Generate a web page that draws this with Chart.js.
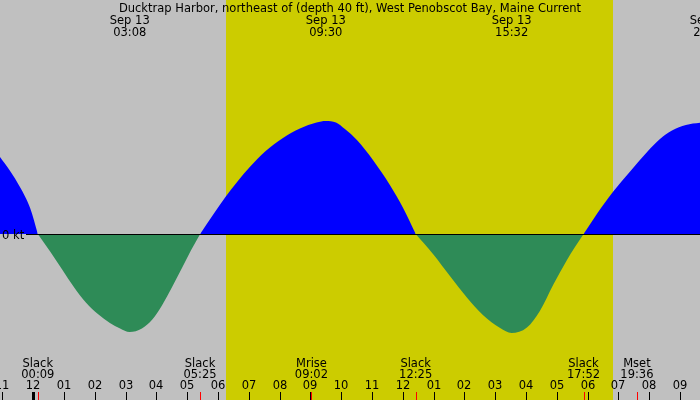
<!DOCTYPE html>
<html>
<head>
<meta charset="utf-8">
<script src="https://cdn.jsdelivr.net/npm/chart.js@4.4.0/dist/chart.umd.min.js"></script>
<style>
  html, body { margin: 0; padding: 0; background: #c0c0c0; }
  #wrap { width: 700px; height: 400px; }
</style>
</head>
<body>
<div id="wrap"><canvas id="tide" width="700" height="400"></canvas></div>
<script>
const TITLE = "Ducktrap Harbor, northeast of (depth 40 ft), West Penobscot Bay, Maine Current";
const DAY = "Sep 13";

// hours after midnight Sep 13, current speed in knots (flood +, ebb -)
const curveHours = [-1.08, -0.75, -0.43, -0.10, 0.15,
  0.55, 0.94, 1.32, 1.71, 2.10, 2.49, 2.82, 3.13, 3.53, 3.86, 4.18, 4.51, 4.83, 5.12, 5.42,
  5.84, 6.23, 6.62, 7.04, 7.53, 8.11, 8.66, 9.20, 9.50, 9.83, 10.12, 10.51, 11.03, 11.58, 12.01, 12.42,
  12.98, 13.53, 14.08, 14.60, 15.16, 15.53, 16.03, 16.45, 16.88, 17.33, 17.59, 17.87,
  18.30, 18.82, 19.38, 19.96, 20.35, 20.74, 21.19, 21.65, 21.97];
const curveKnots = [0.77, 0.63, 0.47, 0.26, 0,
  -0.175, -0.355, -0.53, -0.685, -0.80, -0.89, -0.945, -0.98, -0.944, -0.858, -0.714, -0.53, -0.34, -0.165, 0,
  0.193, 0.365, 0.521, 0.672, 0.824, 0.96, 1.055, 1.115, 1.13, 1.115, 1.05, 0.94, 0.74, 0.49, 0.26, 0,
  -0.20, -0.42, -0.635, -0.81, -0.94, -0.99, -0.935, -0.77, -0.51, -0.26, -0.13, 0,
  0.20, 0.42, 0.625, 0.83, 0.95, 1.035, 1.09, 1.113, 1.12];

// max current times (labels on top)
const maxTimes = ["03:08", "09:30", "15:32", "21:58"];

// events on the bottom
const eventNames = ["Slack", "Slack", "Mrise", "Slack", "Slack", "Mset"];
const eventTimes = ["00:09", "05:25", "09:02", "12:25", "17:52", "19:36"];

const sunRise = "06:16";
const sunSet = "18:49";

const tickHours = [-1, 0, 1, 2, 3, 4, 5, 6, 7, 8, 9, 10, 11, 12, 13, 14, 15, 16, 17, 18, 19, 20, 21];
const tickLabels = ["11", "12", "01", "02", "03", "04", "05", "06", "07", "08", "09", "10",
  "11", "12", "01", "02", "03", "04", "05", "06", "07", "08", "09"];

const GRAY = "#c0c0c0";
const YELLOW = "#cccc00";
const FONT = "11.5px 'DejaVu Sans'";

function toHours(t) {
  let p = t.split(":");
  return parseInt(p[0], 10) + parseInt(p[1], 10) / 60;
}

// ==================== decor plugin ===================
const tideDecor = {
  id: "tideDecor",
  beforeDraw(chart) {
    const ctx = chart.ctx;
    const xs = chart.scales.x;
    ctx.save();
    ctx.fillStyle = GRAY;
    ctx.fillRect(0, 0, chart.width, chart.height);
    let x1 = Math.round(xs.getPixelForValue(toHours(sunRise)));
    let x2 = Math.round(xs.getPixelForValue(toHours(sunSet)));
    ctx.fillStyle = YELLOW;
    ctx.fillRect(x1, 0, x2 - x1, chart.height);
    ctx.restore();
  },
  afterDatasetsDraw(chart) {
    const ctx = chart.ctx;
    const xs = chart.scales.x;
    const ys = chart.scales.y;
    ctx.save();

    // zero line + label
    let y0 = Math.round(ys.getPixelForValue(0));
    ctx.fillStyle = "#000";
    ctx.fillRect(26, y0, chart.width - 26, 1);
    ctx.font = FONT;
    ctx.textAlign = "left";
    ctx.textBaseline = "alphabetic";
    ctx.fillText("0 kt", 2, 239);

    // title and max current labels
    ctx.textAlign = "center";
    ctx.fillText(TITLE, 350, 12);
    maxTimes.forEach(function (t) {
      let x = xs.getPixelForValue(toHours(t));
      ctx.fillText(DAY, x, 24);
      ctx.fillText(t, x, 36);
    });

    // hour ticks
    tickHours.forEach(function (h, i) {
      let x = Math.round(xs.getPixelForValue(h));
      ctx.fillStyle = "#000";
      ctx.fillText(tickLabels[i], x, 389);
      if (h === 0) {
        ctx.fillRect(x - 1, 392, 3, 8);
      } else {
        ctx.fillRect(x, 392, 1, 8);
      }
    });

    // events
    eventNames.forEach(function (name, i) {
      let x = xs.getPixelForValue(toHours(eventTimes[i]));
      ctx.fillStyle = "#000";
      ctx.fillText(name, x, 367);
      ctx.fillText(eventTimes[i], x, 378);
      ctx.fillStyle = "#ff0000";
      ctx.fillRect(Math.round(x), 392, 1, 8);
    });

    ctx.restore();
  },
};

// ==================== chart ===================
// one dataset per flood / ebb lobe, split at the slack points
let lobes = [];
let current = [];
curveHours.forEach(function (h, i) {
  current.push({ x: h, y: curveKnots[i] });
  if (curveKnots[i] === 0 && current.length > 1) {
    lobes.push(current);
    current = [{ x: h, y: 0 }];
  }
});
if (current.length > 1) lobes.push(current);

const datasets = lobes.map(function (pts) {
  return {
    data: pts,
    borderWidth: 0,
    borderColor: "rgba(0,0,0,0)",
    pointRadius: 0,
    cubicInterpolationMode: "monotone",
    fill: { target: "origin", above: "#0000ff", below: "#2e8b57" },
  };
});

const ctxTide = document.getElementById("tide").getContext("2d");
let chartTide = new Chart(ctxTide, {
  type: "line",
  data: { datasets: datasets },
  options: {
    responsive: false,
    animation: false,
    devicePixelRatio: 1,
    layout: { padding: 0 },
    scales: {
      x: { type: "linear", min: -1.078, max: 21.649, display: false },
      y: { min: -1.66, max: 2.34, display: false },
    },
    plugins: {
      legend: { display: false },
      tooltip: { enabled: false },
    },
  },
  plugins: [tideDecor],
});
</script>
</body>
</html>
